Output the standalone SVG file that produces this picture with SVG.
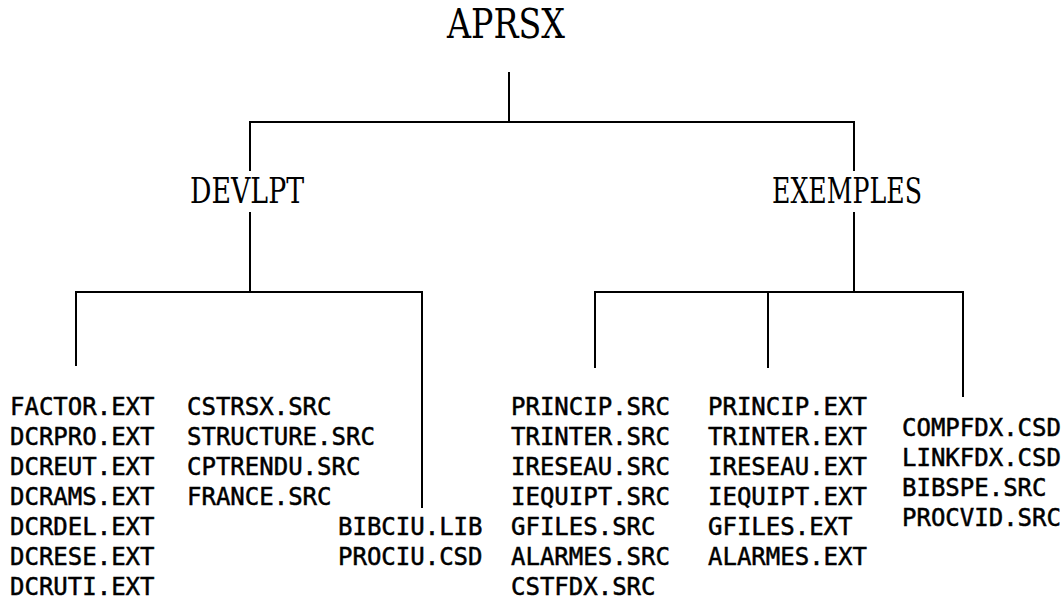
<svg xmlns="http://www.w3.org/2000/svg" width="1064" height="600" viewBox="0 0 1064 600">
<style>
.bg{fill:#fff}
.ln{stroke:#000;stroke-width:2;fill:none;stroke-linecap:square}
.dir{font-family:"DejaVu Serif","Liberation Serif",serif;fill:#000}
.f{font-family:"DejaVu Sans Mono","Liberation Mono",monospace;font-size:24px;fill:#000;stroke:#000;stroke-width:0.5}
</style>
<rect class="bg" x="0" y="0" width="1064" height="600"/>
<g id="connectors">
<path class="ln" d="M509,73 V122 M250,122 H854 M250,122 V170 M854,122 V170"/>
<path class="ln" d="M250,213 V292 M76,292 H422 M76,292 V365 M422,292 V507"/>
<path class="ln" d="M854,213 V292 M595,292 H963 M595,292 V367 M768,292 V367 M963,292 V396"/>
</g>
<g id="aprsx"><text class="dir" x="506" y="38" font-size="41" text-anchor="middle" textLength="118" lengthAdjust="spacingAndGlyphs">APRSX</text></g>
<g id="devlpt"><text class="dir" x="247" y="203" font-size="36" text-anchor="middle" textLength="114" lengthAdjust="spacingAndGlyphs">DEVLPT</text></g>
<g id="exemples"><text class="dir" x="847" y="203" font-size="36" text-anchor="middle" textLength="150" lengthAdjust="spacingAndGlyphs">EXEMPLES</text></g>
<g id="col-devlpt-1" class="f">
<text x="10" y="415">FACTOR.EXT</text>
<text x="10" y="445">DCRPRO.EXT</text>
<text x="10" y="475">DCREUT.EXT</text>
<text x="10" y="505">DCRAMS.EXT</text>
<text x="10" y="535">DCRDEL.EXT</text>
<text x="10" y="565">DCRESE.EXT</text>
<text x="10" y="595">DCRUTI.EXT</text>
</g>
<g id="col-devlpt-2" class="f">
<text x="187" y="415">CSTRSX.SRC</text>
<text x="187" y="445">STRUCTURE.SRC</text>
<text x="187" y="475">CPTRENDU.SRC</text>
<text x="187" y="505">FRANCE.SRC</text>
</g>
<g id="col-devlpt-3" class="f">
<text x="338" y="535">BIBCIU.LIB</text>
<text x="338" y="565">PROCIU.CSD</text>
</g>
<g id="col-exemples-1" class="f">
<text x="511" y="415">PRINCIP.SRC</text>
<text x="511" y="445">TRINTER.SRC</text>
<text x="511" y="475">IRESEAU.SRC</text>
<text x="511" y="505">IEQUIPT.SRC</text>
<text x="511" y="535">GFILES.SRC</text>
<text x="511" y="565">ALARMES.SRC</text>
<text x="511" y="595">CSTFDX.SRC</text>
</g>
<g id="col-exemples-2" class="f">
<text x="708" y="415">PRINCIP.EXT</text>
<text x="708" y="445">TRINTER.EXT</text>
<text x="708" y="475">IRESEAU.EXT</text>
<text x="708" y="505">IEQUIPT.EXT</text>
<text x="708" y="535">GFILES.EXT</text>
<text x="708" y="565">ALARMES.EXT</text>
</g>
<g id="col-exemples-3" class="f">
<text x="902" y="436">COMPFDX.CSD</text>
<text x="902" y="466">LINKFDX.CSD</text>
<text x="902" y="496">BIBSPE.SRC</text>
<text x="902" y="526">PROCVID.SRC</text>
</g>
</svg>
